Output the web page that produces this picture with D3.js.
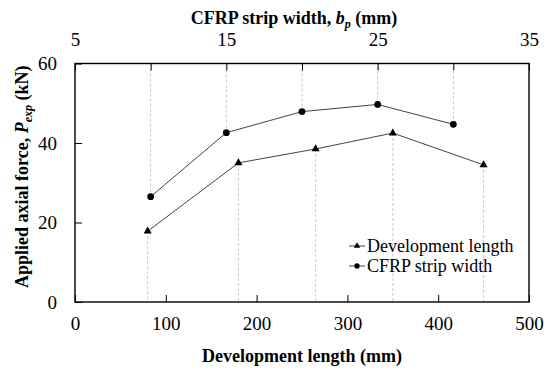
<!DOCTYPE html>
<html><head><meta charset="utf-8">
<script src="https://cdn.jsdelivr.net/npm/d3@7"></script>
<style>body{margin:0;background:#fff}svg{display:block}text{font-family:"Liberation Serif","Times New Roman",serif;fill:#000}</style>
</head><body>
<svg id="c" width="544" height="376" font-family="Liberation Serif, serif"></svg>
<script>
const devLength = [80, 180, 265, 350, 450];
const devForce = [17.8, 35, 38.5, 42.5, 34.5];
const stripWidth = [10, 15, 20, 25, 30];
const stripForce = [26.5, 42.6, 47.9, 49.7, 44.7];
const xTicks = [0, 100, 200, 300, 400, 500];
const topTicks = [5, 15, 25, 35];
const topMinor = [10, 20, 30];
const yTicks = [0, 20, 40, 60];

const svg = d3.select("#c");
const L = 75, R = 529, T = 63.5, B = 302;
const FS = "19px";
const FF = '"Liberation Serif","Times New Roman",serif';
const x = d3.scaleLinear().domain([0, 500]).range([L, R]);
const xt = d3.scaleLinear().domain([5, 35]).range([L, R]);
const y = d3.scaleLinear().domain([0, 60]).range([B, T]);

// dashed guide lines
svg.append("g").selectAll("line").data(devLength).join("line")
  .attr("x1", (d) => x(d)).attr("x2", (d) => x(d))
  .attr("y1", (d, i) => y(devForce[i])).attr("y2", B)
  .attr("stroke", "#bdbdbd").attr("stroke-width", 0.8).attr("stroke-dasharray", "3,2");
svg.append("g").selectAll("line").data(stripWidth).join("line")
  .attr("x1", (d) => xt(d)).attr("x2", (d) => xt(d))
  .attr("y1", (d, i) => y(stripForce[i])).attr("y2", T)
  .attr("stroke", "#bdbdbd").attr("stroke-width", 0.8).attr("stroke-dasharray", "3,2");

// axes (inward ticks)
const gb = svg.append("g").attr("transform", `translate(0,${B})`)
  .call(d3.axisBottom(x).tickValues(xTicks).tickSize(-7).tickPadding(15).tickFormat(d3.format("d")));
const gt = svg.append("g").attr("transform", `translate(0,${T})`)
  .call(d3.axisTop(xt).tickValues(topTicks.concat(topMinor)).tickSize(-7).tickPadding(17.5)
    .tickFormat((d) => topTicks.includes(d) ? d : ""));
const gl = svg.append("g").attr("transform", `translate(${L},0)`)
  .call(d3.axisLeft(y).tickValues(yTicks).tickSize(-7).tickPadding(18));
[gb, gt, gl].forEach((g) => {
  g.attr("font-family", FF).attr("font-size", FS);
  g.select(".domain").remove();
  g.selectAll("line").attr("stroke", "#000").attr("stroke-width", 1);
  g.selectAll("text").style("font-family", FF).style("font-size", FS).attr("fill", "#000");
});
svg.append("rect").attr("x", L).attr("y", T).attr("width", R - L).attr("height", B - T)
  .attr("fill", "none").attr("stroke", "#000").attr("stroke-width", 1.4);

// lines
const lineDev = d3.line().x((d) => x(d[0])).y((d) => y(d[1]));
svg.append("path").datum(devLength.map((d, i) => [d, devForce[i]]))
  .attr("d", lineDev).attr("fill", "none").attr("stroke", "#444").attr("stroke-width", 1);
const lineStrip = d3.line().x((d) => xt(d[0])).y((d) => y(d[1]));
svg.append("path").datum(stripWidth.map((d, i) => [d, stripForce[i]]))
  .attr("d", lineStrip).attr("fill", "none").attr("stroke", "#444").attr("stroke-width", 1);

const tri = d3.symbol().type(d3.symbolTriangle).size(28);
const cir = d3.symbol().type(d3.symbolCircle).size(36);
svg.append("g").selectAll("path").data(devLength).join("path")
  .attr("d", tri).attr("transform", (d, i) => `translate(${x(d)},${y(devForce[i])})`).attr("fill", "#000");
svg.append("g").selectAll("path").data(stripWidth).join("path")
  .attr("d", cir).attr("transform", (d, i) => `translate(${xt(d)},${y(stripForce[i])})`).attr("fill", "#000");

// legend
const legTri = d3.symbol().type(d3.symbolTriangle).size(18);
const legCir = d3.symbol().type(d3.symbolCircle).size(22);
const leg = [{name: "Development length", sym: legTri, y: 246}, {name: "CFRP strip width", sym: legCir, y: 266}];
leg.forEach((e) => {
  svg.append("line").attr("x1", 349).attr("x2", 365).attr("y1", e.y).attr("y2", e.y).attr("stroke", "#444");
  svg.append("path").attr("d", e.sym).attr("transform", `translate(357,${e.y})`).attr("fill", "#000");
  svg.append("text").attr("x", 367).attr("y", e.y + 6).style("font-family", FF).style("font-size", "18px").text(e.name);
});

// titles
svg.append("text").attr("x", (L + R) / 2).attr("y", 362).attr("text-anchor", "middle")
  .style("font-family", FF).style("font-size", "18px").style("font-weight", "bold").text("Development length (mm)");
const tt = svg.append("text").attr("x", (L + R) / 2 - 8).attr("y", 24).attr("text-anchor", "middle")
  .style("font-family", FF).style("font-size", "18px").style("font-weight", "bold");
tt.append("tspan").text("CFRP strip width, ");
tt.append("tspan").style("font-style", "italic").text("b");
tt.append("tspan").style("font-style", "italic").style("font-size", "12px").attr("dy", 4).text("p");
tt.append("tspan").attr("dy", -4).text(" (mm)");

const yl = svg.append("text").attr("transform", `translate(28,${(T + B) / 2 - 6}) rotate(-90)`)
  .attr("text-anchor", "middle").style("font-family", FF).style("font-size", "18px").style("font-weight", "bold");
yl.append("tspan").text("Applied axial force, ");
yl.append("tspan").style("font-style", "italic").text("P");
yl.append("tspan").style("font-style", "italic").style("font-size", "12px").attr("dy", 4).text("exp");
yl.append("tspan").attr("dy", -4).text(" (kN)");
</script>
</body></html>
